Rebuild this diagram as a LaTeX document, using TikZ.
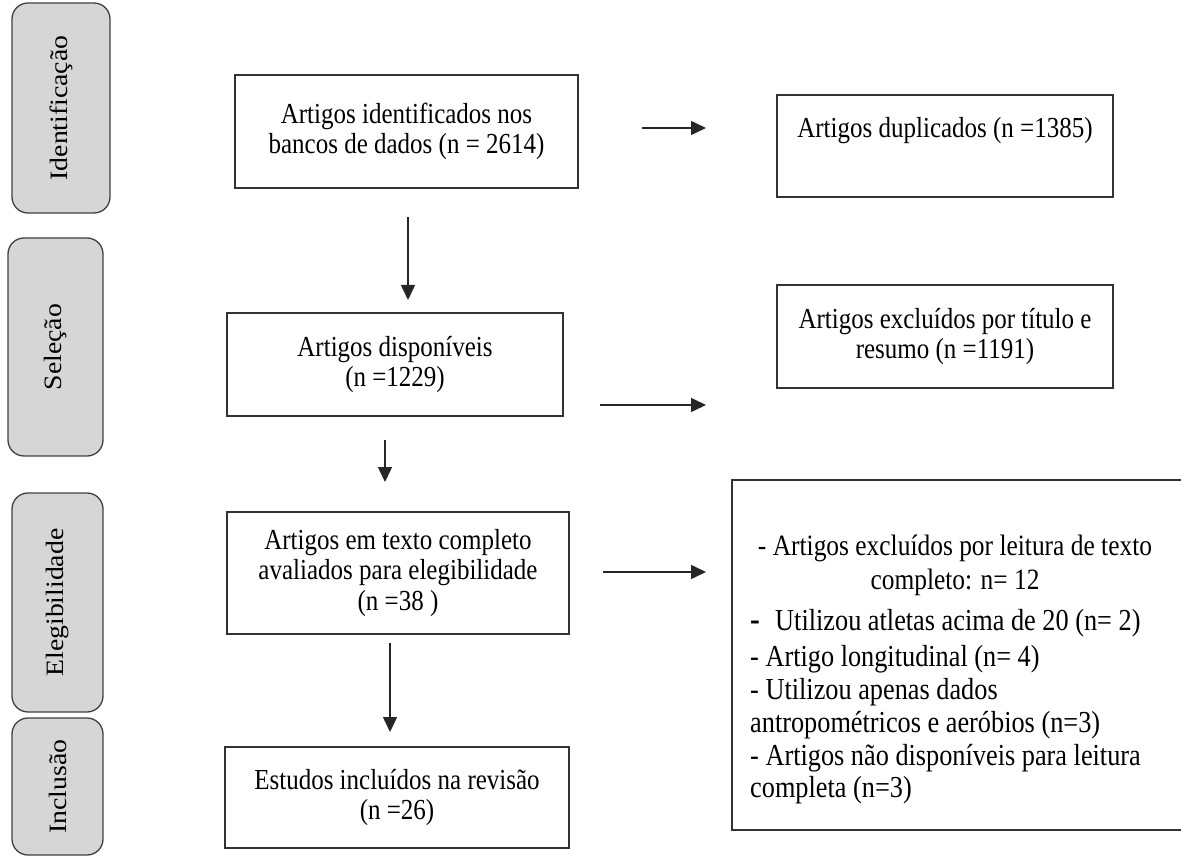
\documentclass[tikz,border=0pt]{standalone}
\usepackage{fontspec}
\setmainfont{Liberation Serif}[FakeStretch=0.862]
\newfontfamily\phasefont{Liberation Serif}[FakeStretch=1.11]
\usetikzlibrary{arrows.meta}
\begin{document}
\begin{tikzpicture}[x=1pt,y=-1pt,
  box/.style={draw=black!80, line width=1.3pt, rectangle, inner sep=0pt, align=center, font=\fontsize{29}{30.5}\selectfont},
  phase/.style={draw=black!75, line width=1.3pt, fill=black!16, rounded corners=16pt, inner sep=0pt, rotate=90, font=\phasefont\fontsize{25}{30}\selectfont},
  arr/.style={line width=1.5pt, draw=black!85, -{Triangle[length=15pt,width=14pt]}},
  txt/.style={inner sep=0pt, font=\fontsize{29}{30.5}\selectfont}
]
\useasboundingbox (0,0) rectangle (1181,858);
% phase labels
\node[phase, minimum width=210pt, minimum height=98pt] (p1) at (61,108) {Identificação};
\node[phase, minimum width=218pt, minimum height=95pt] (p2) at (55.5,347) {Seleção};
\node[phase, minimum width=219pt, minimum height=91pt] (p3) at (57.5,602.5) {Elegibilidade};
\node[phase, minimum width=137pt, minimum height=91pt] (p4) at (57.5,786.5) {Inclusão};
% main boxes
\node[box, minimum width=343pt, minimum height=113pt] (b1) at (406.5,131.5) {Artigos identificados nos\\bancos de dados (n = 2614)};
\node[box, minimum width=336pt, minimum height=102pt] (b2) at (945,146) {};
\node[txt] (t2) at (945,131) {Artigos duplicados (n =1385)};
\node[box, minimum width=336pt, minimum height=103pt] (b3) at (395,364.5) {Artigos disponíveis\\(n =1229)};
\node[box, minimum width=336pt, minimum height=103pt] (b4) at (945,336.5) {Artigos excluídos por título e\\resumo (n =1191)};
\node[box, minimum width=342pt, minimum height=122pt] (b5) at (398,573) {Artigos em texto completo\\avaliados para elegibilidade\\(n =38 )};
\node[box, minimum width=458pt, minimum height=350pt] (b6) at (961,655) {};
\node[txt, align=center, font=\fontsize{29.5}{34}\selectfont] (t6a) at (955,565) {- Artigos excluídos por leitura de texto\\completo: n= 12};
\node[txt, align=left, anchor=west, font=\fontsize{30.5}{32.8}\selectfont] (t6b) at (750,707) {{\fontsize{34}{30}\selectfont\bfseries -}\enspace Utilizou atletas acima de 20 (n= 2)\\[3pt]- Artigo longitudinal (n= 4)\\- Utilizou apenas dados\\antropométricos e aeróbios (n=3)\\- Artigos não disponíveis para leitura\\completa (n=3)};
\node[box, minimum width=344pt, minimum height=101pt] (b7) at (397,797.5) {Estudos incluídos na revisão\\(n =26)};
% arrows
\coordinate (h1s) at (642,128); \coordinate (h1e) at (706,128);
\coordinate (h2s) at (600,405); \coordinate (h2e) at (706,405);
\coordinate (h3s) at (603,572); \coordinate (h3e) at (706,572);
\coordinate (d1s) at (408,217); \coordinate (d1e) at (408,300);
\coordinate (d2s) at (385,440); \coordinate (d2e) at (385,482);
\coordinate (d3s) at (390,643); \coordinate (d3e) at (390,732);
\draw[arr] (h1s) -- (h1e);
\draw[arr] (h2s) -- (h2e);
\draw[arr] (h3s) -- (h3e);
\draw[arr] (d1s) -- (d1e);
\draw[arr] (d2s) -- (d2e);
\draw[arr] (d3s) -- (d3e);
\end{tikzpicture}
\end{document}
